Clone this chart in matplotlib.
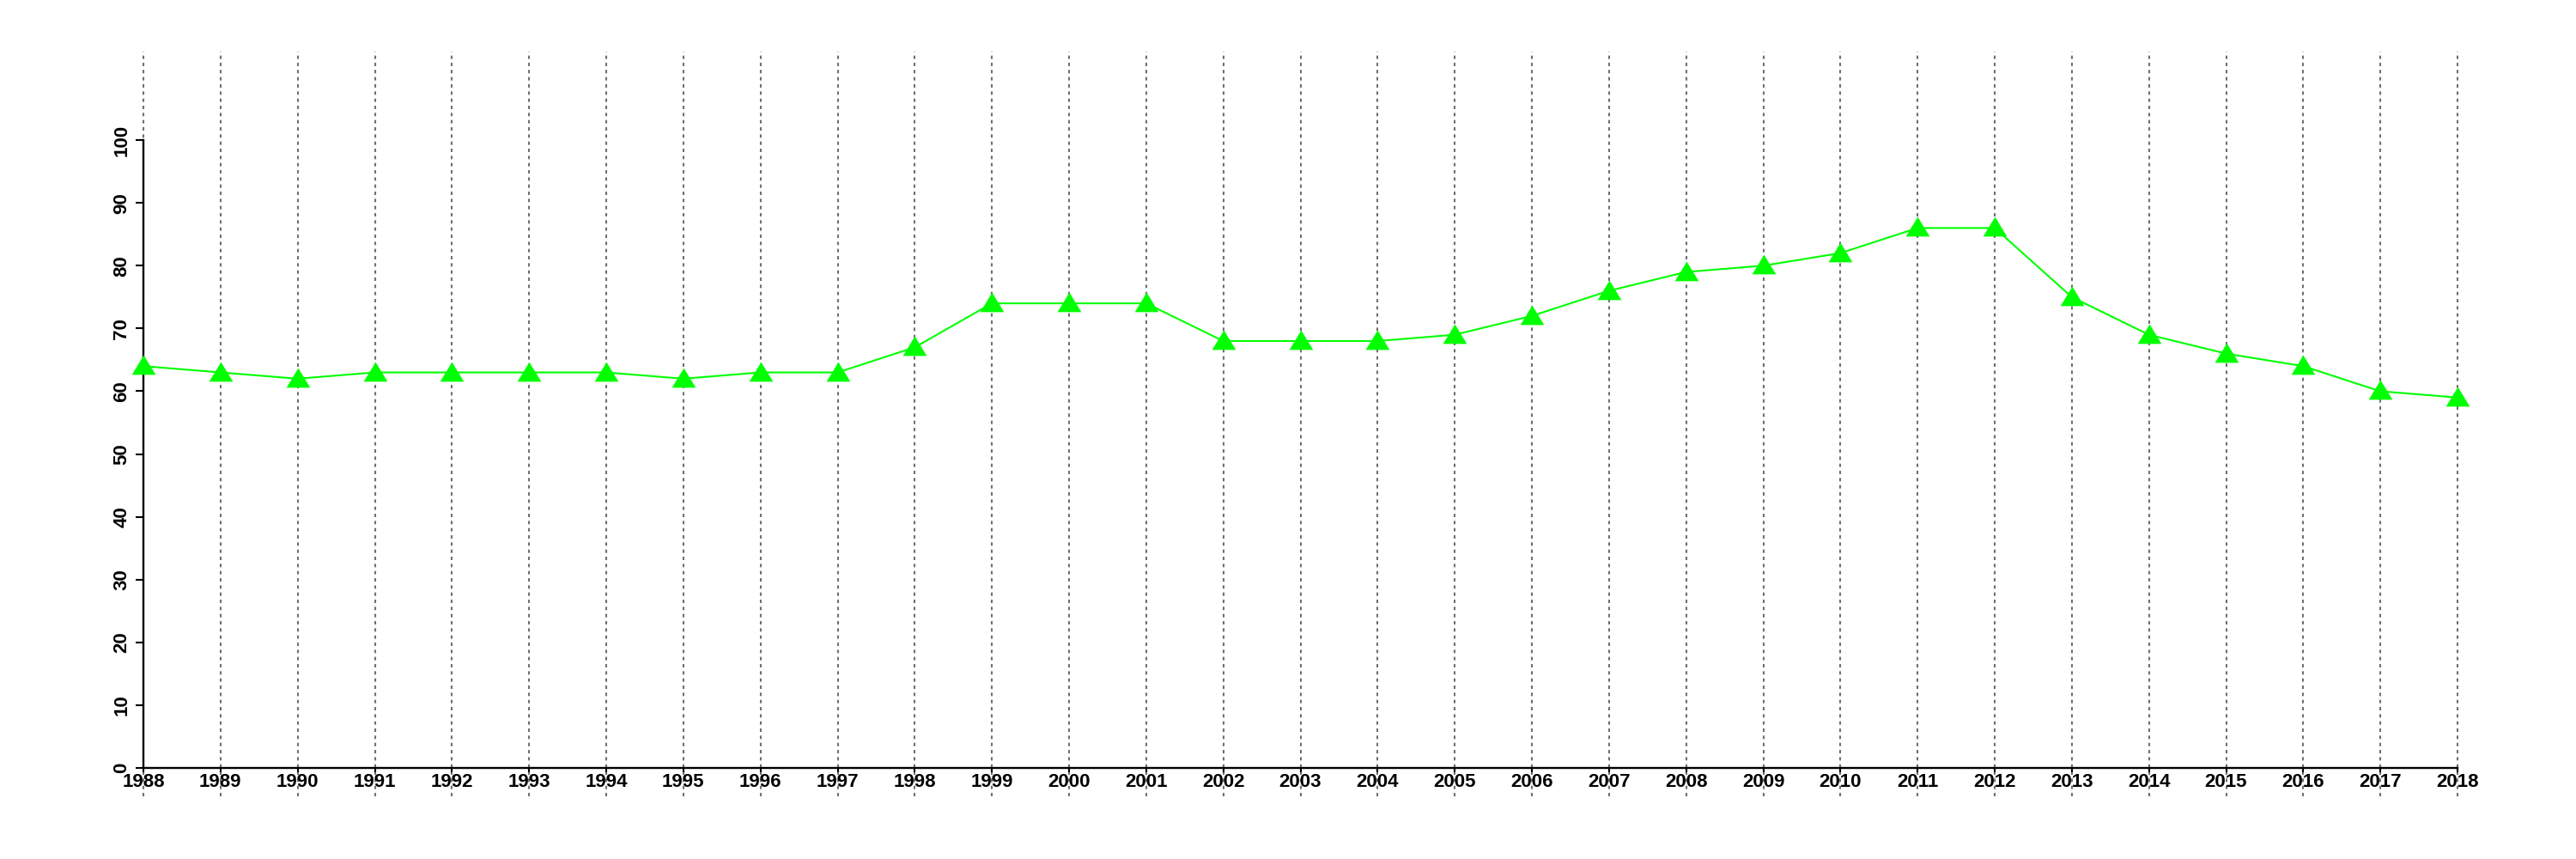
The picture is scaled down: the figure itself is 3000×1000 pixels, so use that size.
import matplotlib.pyplot as plt

# Data
years = list(range(1988, 2019))
values = [64, 63, 62, 63, 63, 63, 63, 62, 63, 63, 67, 74, 74, 74, 68, 68, 68,
          69, 72, 76, 79, 80, 82, 86, 86, 75, 69, 66, 64, 60, 59]
y_ticks = [0, 10, 20, 30, 40, 50, 60, 70, 80, 90, 100]

plt.rcParams['font.family'] = ['Liberation Sans', 'DejaVu Sans']

fig = plt.figure(figsize=(30, 10), dpi=100)
ax = fig.add_axes([167 / 3000, 0.073, (2862 - 167) / 3000, 0.94 - 0.073])

# dotted vertical grid at every year, spanning the full axes height
for yr in years:
    ax.axvline(yr, color='#707070', linestyle=(0, (1.9, 2.1)), linewidth=1.5,
               zorder=1, clip_on=False)

# filled triangle, roughly equilateral like R's pch 17
tri = [(0, 0.93), (-1, -0.71), (1, -0.71)]
ax.plot(years, values, color='#00ff00', linewidth=1.5, marker=tri,
        markersize=20, markeredgewidth=0, clip_on=False, zorder=3)

ax.set_xlim(1988, 2018)
ax.set_ylim(-4.5, 114.1)

for side in ['top', 'right']:
    ax.spines[side].set_visible(False)
ax.spines['left'].set_bounds(0, 100)
ax.spines['bottom'].set_position(('data', 0))
ax.spines['bottom'].set_bounds(1988, 2018)
ax.spines['left'].set_linewidth(1.7)
ax.spines['bottom'].set_linewidth(1.7)

ax.set_xticks(years)
ax.set_xticklabels([str(y) for y in years], fontsize=16, fontweight='bold')
ax.set_yticks(y_ticks)
ax.set_yticklabels([str(v) for v in y_ticks], fontsize=16, fontweight='bold',
                   rotation=90, va='center')
ax.tick_params(axis='y', length=6.5, width=1.5, pad=4)
ax.tick_params(axis='x', length=3.5, width=1.5, pad=1)

fig.savefig('out.png', dpi=100)
